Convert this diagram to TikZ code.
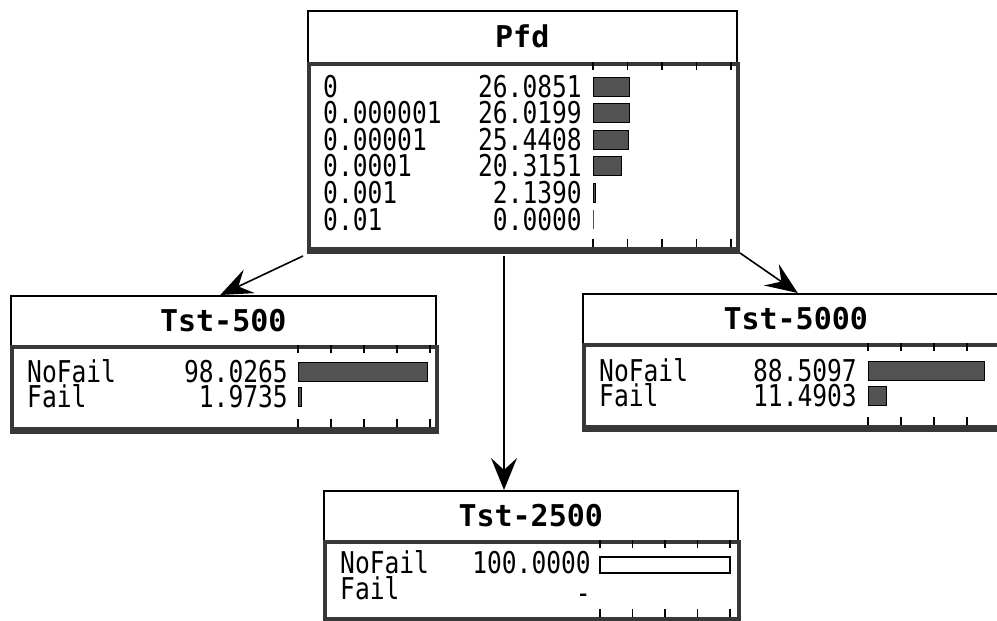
\documentclass[tikz,border=0pt]{standalone}
\usepackage{fontspec}
\usetikzlibrary{arrows.meta}
\newfontfamily\cellfont[FakeStretch=0.82]{DejaVu Sans Mono}
\newfontfamily\headfont{DejaVu Sans Mono}

\begin{document}
\begin{tikzpicture}[x=1pt,y=-1pt,
  headbox/.style={draw=black,line width=1.5pt,fill=white,inner sep=0pt,anchor=north west,
    font=\headfont\bfseries\fontsize{30}{30}\selectfont},
  bodybox/.style={draw=black!78,line width=3.5pt,fill=white,inner sep=0pt,anchor=north west},
  shade/.style={draw=black!78,line width=6pt},
  cell/.style={font=\cellfont\fontsize{30}{30}\selectfont,inner sep=0pt,
    text height=21pt,text depth=0pt},
  lbl/.style={cell,anchor=base west},
  val/.style={cell,anchor=base east},
  bar/.style={draw=black,line width=1pt,fill=black!68},
  openbar/.style={draw=black,line width=1.5pt,fill=white},
  tick/.style={draw=black,line width=1.5pt},
  link/.style={draw=black,line width=1.6pt,-{Stealth[length=32pt,width=26pt,inset=12pt]}}
]
\useasboundingbox (0,0) rectangle (997,621);

% ---------------- Pfd ----------------
\node[headbox,minimum width=429pt,minimum height=52pt] (pfd) at (307,10) {Pfd};
\node[bodybox,minimum width=429pt,minimum height=185pt] (pfdbody) at (307,62) {};
\draw[shade] (pfdbody.south west) -- (pfdbody.south east);
\foreach \k in {0,...,4}{
  \draw[tick] (593+34.5*\k,62) -- ++(0,8);
  \draw[tick] (593+34.5*\k,247) -- ++(0,-8);
}
\foreach \lab/\num [count=\i from 0] in
  {0/26.0851, 0.000001/26.0199, 0.00001/25.4408, 0.0001/20.3151, 0.001/2.1390, 0.01/0.0000}{
  \pgfmathsetmacro\yb{97+26.6*\i}
  \node[lbl] (pfdl\i) at (323,\yb) {\lab};
  \node[val] (pfdv\i) at (582,\yb) {\num};
  \draw[bar] (593,\yb-20) rectangle ++(\num*1.40,19);
}

% ---------------- Tst-500 ----------------
\node[headbox,minimum width=425pt,minimum height=50pt] (t500) at (10,295) {Tst-500};
\node[bodybox,minimum width=425pt,minimum height=82pt] (t500body) at (10,345) {};
\draw[shade] (t500body.south west) -- (t500body.south east);
\foreach \k in {0,...,4}{
  \draw[tick] (298+33*\k,345) -- ++(0,8);
  \draw[tick] (298+33*\k,427) -- ++(0,-8);
}
\node[lbl] (t500l1) at (27,382) {NoFail};
\node[val] (t500v1) at (288,382) {98.0265};
\draw[bar] (298,362) rectangle (427.5,381);
\node[lbl] (t500l2) at (27,407) {Fail};
\node[val] (t500v2) at (288,407) {1.9735};
\draw[bar] (298,387) rectangle (301,406);

% ---------------- Tst-5000 ----------------
\node[headbox,minimum width=426pt,minimum height=50pt] (t5000) at (582,293) {Tst-5000};
\node[bodybox,minimum width=426pt,minimum height=82pt] (t5000body) at (582,343) {};
\draw[shade] (t5000body.south west) -- (t5000body.south east);
\foreach \k in {0,...,4}{
  \draw[tick] (868+33*\k,343) -- ++(0,8);
  \draw[tick] (868+33*\k,425) -- ++(0,-8);
}
\node[lbl] (t5000l1) at (599,381) {NoFail};
\node[val] (t5000v1) at (857,381) {88.5097};
\draw[bar] (868,361) rectangle (984,380);
\node[lbl] (t5000l2) at (599,406) {Fail};
\node[val] (t5000v2) at (857,406) {11.4903};
\draw[bar] (868,386) rectangle (886,405);

% ---------------- Tst-2500 ----------------
\node[headbox,minimum width=414pt,minimum height=50pt] (t2500) at (323,490) {Tst-2500};
\node[bodybox,minimum width=414pt,minimum height=77pt] (t2500body) at (323,540) {};
\draw[shade] (t2500body.south west) -- (t2500body.south east);
\foreach \k in {0,...,4}{
  \draw[tick] (600+32.5*\k,540) -- ++(0,8);
  \draw[tick] (600+32.5*\k,617) -- ++(0,-8);
}
\node[lbl] (t2500l1) at (340,573) {NoFail};
\node[val] (t2500v1) at (591,573) {100.0000};
\draw[openbar] (600,557) rectangle (730,573);
\node[lbl] (t2500l2) at (340,599) {Fail};
\node[val,text height=10pt] (t2500v2) at (591,603) {-};

% ---------------- links ----------------
\coordinate (fromA) at (303,256);
\coordinate (fromB) at (740,253);
\coordinate (fromC) at (504,256);
\draw[link] (fromA) -- ([xshift=-3pt]t500.north);
\draw[link] (fromB) -- ([xshift=2pt]t5000.north);
\draw[link] (fromC) -- (fromC |- t2500.north);
\end{tikzpicture}
\end{document}
